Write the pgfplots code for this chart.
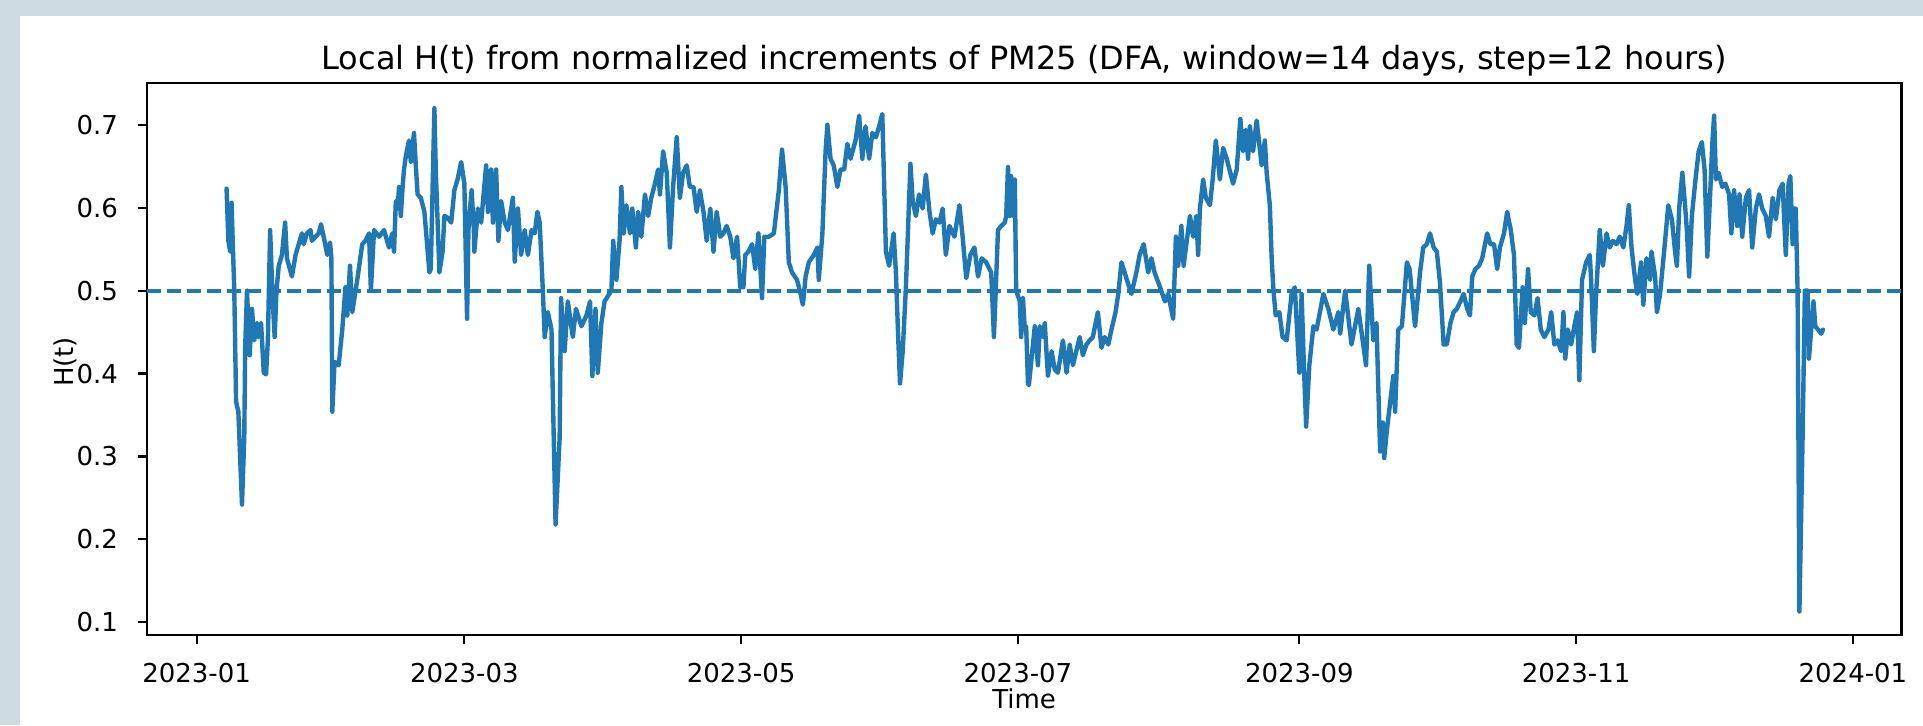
\documentclass[border=0pt]{standalone}
\usepackage{fontspec}
\setmainfont{DejaVu Sans}
\usepackage{pgfplots}
\pgfplotsset{compat=1.18}
\usepackage{pgfplotstable}
\definecolor{tabblue}{RGB}{31,119,180}
\definecolor{bggray}{RGB}{207,219,227}
\pgfplotstableread{
day H
6.6 0.623
7.0 0.560
7.4 0.547
7.7 0.606
8.0 0.552
8.3 0.500
8.7 0.366
9.2 0.354
10.0 0.242
10.5 0.323
10.7 0.431
11.1 0.500
11.7 0.422
12.2 0.478
12.7 0.440
13.3 0.461
13.6 0.444
14.2 0.461
14.8 0.401
15.3 0.399
15.7 0.440
16.2 0.573
16.7 0.496
17.2 0.444
17.6 0.500
18.1 0.530
18.8 0.543
19.5 0.582
19.9 0.539
21.0 0.517
21.8 0.543
22.5 0.556
23.2 0.569
23.6 0.556
24.3 0.569
25.1 0.573
25.4 0.560
26.2 0.565
26.9 0.569
27.4 0.580
28.0 0.565
28.8 0.543
29.4 0.558
29.7 0.539
29.9 0.354
30.4 0.414
31.3 0.410
32.1 0.453
32.8 0.504
33.2 0.470
33.8 0.530
34.3 0.474
35.4 0.513
36.5 0.556
37.2 0.560
38.0 0.569
38.4 0.500
39.1 0.573
40.2 0.565
41.3 0.573
42.4 0.552
43.1 0.569
43.5 0.547
43.9 0.608
44.3 0.599
44.6 0.625
45.0 0.590
45.4 0.625
45.7 0.646
46.1 0.662
46.8 0.681
47.2 0.655
47.9 0.690
48.3 0.651
48.7 0.616
49.4 0.612
50.2 0.595
51.3 0.522
51.6 0.526
52.4 0.720
52.7 0.646
53.5 0.522
54.2 0.547
54.6 0.590
55.3 0.588
56.1 0.582
56.8 0.621
57.5 0.634
58.3 0.655
59.0 0.629
59.6 0.466
59.9 0.573
60.1 0.590
60.6 0.621
61.1 0.573
61.2 0.547
62.0 0.599
62.7 0.582
63.8 0.651
64.2 0.595
64.9 0.646
65.3 0.582
66.0 0.646
66.5 0.560
67.1 0.608
67.9 0.582
68.6 0.573
69.7 0.612
70.1 0.535
70.8 0.599
71.5 0.543
72.3 0.573
73.0 0.543
73.8 0.573
74.5 0.569
75.1 0.595
75.6 0.582
76.3 0.500
76.7 0.444
77.4 0.474
78.2 0.453
79.1 0.218
80.0 0.323
80.3 0.491
81.1 0.427
81.8 0.487
82.9 0.444
83.6 0.478
84.8 0.457
85.9 0.470
86.7 0.487
87.2 0.397
87.9 0.478
88.4 0.401
89.2 0.461
89.9 0.487
90.7 0.494
91.4 0.500
91.8 0.560
92.5 0.513
93.2 0.560
93.6 0.625
94.1 0.569
94.7 0.603
95.5 0.569
96.0 0.599
96.8 0.552
97.3 0.595
98.0 0.565
98.8 0.616
99.5 0.590
100.2 0.612
101.0 0.629
101.7 0.646
102.1 0.616
102.8 0.668
103.6 0.642
104.3 0.552
105.0 0.625
105.8 0.685
106.5 0.612
107.2 0.642
108.0 0.651
108.7 0.625
109.5 0.625
110.2 0.595
110.9 0.621
111.7 0.595
112.4 0.560
113.2 0.599
113.9 0.547
114.6 0.595
115.4 0.565
116.1 0.569
116.8 0.578
117.6 0.565
118.3 0.539
119.1 0.565
119.8 0.504
120.5 0.504
120.9 0.543
121.6 0.547
122.4 0.556
123.1 0.526
123.8 0.569
124.6 0.491
125.1 0.565
126.1 0.565
127.2 0.569
128.3 0.621
129.0 0.670
129.8 0.625
130.5 0.534
131.2 0.522
132.3 0.513
133.1 0.496
133.6 0.483
134.2 0.517
134.9 0.534
136.0 0.543
136.8 0.552
137.1 0.513
137.9 0.569
138.2 0.612
138.6 0.668
139.0 0.700
139.7 0.659
140.4 0.651
141.2 0.625
141.9 0.646
142.7 0.646
143.4 0.677
144.1 0.659
145.2 0.681
146.0 0.711
146.7 0.659
147.4 0.698
148.2 0.659
148.9 0.690
149.7 0.685
150.4 0.698
151.1 0.713
151.9 0.547
152.6 0.530
153.6 0.569
154.1 0.522
154.6 0.444
155.0 0.388
155.6 0.427
156.3 0.504
157.3 0.653
157.8 0.608
158.5 0.590
159.2 0.616
160.0 0.599
160.7 0.640
161.5 0.595
162.2 0.569
162.9 0.586
163.7 0.582
164.4 0.599
165.1 0.543
165.9 0.578
167.0 0.565
168.1 0.603
168.8 0.565
169.6 0.515
170.5 0.543
171.4 0.552
172.2 0.517
173.0 0.539
174.0 0.534
175.1 0.522
175.7 0.444
176.6 0.573
177.3 0.578
178.1 0.582
178.4 0.590
178.8 0.649
179.2 0.590
179.5 0.638
180.0 0.590
180.3 0.634
180.6 0.500
181.4 0.487
181.7 0.444
182.1 0.491
182.5 0.453
182.8 0.457
183.2 0.388
183.4 0.386
184.7 0.457
185.4 0.410
185.8 0.457
186.5 0.444
186.9 0.461
187.6 0.397
188.4 0.427
189.1 0.405
189.8 0.401
190.9 0.440
191.7 0.401
192.4 0.435
193.1 0.410
194.6 0.444
195.3 0.422
196.1 0.435
196.8 0.440
197.5 0.444
198.6 0.474
199.4 0.431
200.1 0.444
200.9 0.435
201.6 0.453
202.5 0.474
203.1 0.496
203.8 0.534
204.5 0.522
205.0 0.513
206.0 0.496
207.1 0.522
207.8 0.543
208.7 0.556
209.7 0.522
210.4 0.539
211.1 0.522
212.3 0.504
213.4 0.487
214.1 0.496
215.2 0.466
215.8 0.565
216.3 0.530
217.0 0.578
217.5 0.530
218.9 0.590
219.6 0.565
220.3 0.590
220.7 0.543
221.1 0.599
221.8 0.634
222.4 0.612
223.3 0.603
223.9 0.634
224.6 0.681
225.5 0.634
226.2 0.672
227.0 0.659
228.4 0.629
229.2 0.646
230.0 0.707
230.6 0.668
231.2 0.694
231.7 0.659
232.1 0.698
232.8 0.668
233.6 0.705
234.7 0.651
235.4 0.681
235.8 0.642
236.5 0.603
236.9 0.539
237.3 0.500
237.8 0.470
238.6 0.474
239.3 0.444
240.2 0.440
241.3 0.496
242.0 0.504
243.0 0.401
243.5 0.496
244.0 0.410
244.5 0.336
245.2 0.410
246.1 0.457
246.8 0.453
248.3 0.496
249.4 0.478
250.5 0.453
251.6 0.474
252.0 0.448
253.1 0.500
254.5 0.435
256.0 0.478
257.7 0.410
258.4 0.530
259.3 0.440
260.0 0.461
260.8 0.306
261.4 0.341
261.7 0.298
262.3 0.332
263.7 0.397
264.1 0.354
264.8 0.453
265.6 0.457
266.7 0.534
267.3 0.526
268.5 0.457
269.6 0.522
270.3 0.552
271.1 0.556
271.8 0.569
272.6 0.552
273.3 0.547
274.0 0.509
274.8 0.435
275.5 0.435
276.3 0.461
277.0 0.474
277.7 0.478
278.5 0.487
279.2 0.496
280.0 0.478
280.6 0.470
281.1 0.517
281.8 0.526
282.6 0.530
283.3 0.539
284.4 0.569
285.1 0.556
285.9 0.556
286.6 0.526
287.2 0.552
288.1 0.569
288.8 0.595
289.6 0.573
290.3 0.543
290.9 0.435
291.4 0.431
292.2 0.504
292.7 0.461
293.4 0.526
294.0 0.474
294.8 0.470
295.5 0.491
296.2 0.453
297.0 0.444
297.9 0.453
298.5 0.474
299.2 0.435
299.9 0.440
300.7 0.427
301.2 0.474
301.6 0.418
302.2 0.453
302.9 0.435
303.6 0.457
304.2 0.474
304.7 0.392
305.3 0.513
306.2 0.534
307.0 0.543
307.3 0.513
307.9 0.427
308.4 0.496
309.2 0.573
309.9 0.530
310.7 0.569
311.4 0.552
312.1 0.560
312.9 0.556
313.6 0.565
314.4 0.552
315.1 0.578
315.6 0.603
316.2 0.552
317.0 0.513
317.5 0.496
318.3 0.534
318.8 0.483
319.5 0.539
320.3 0.513
320.6 0.547
321.4 0.517
321.8 0.474
322.5 0.496
323.6 0.560
324.3 0.603
325.1 0.586
325.8 0.547
326.2 0.530
326.7 0.599
327.4 0.642
328.0 0.603
328.4 0.573
328.9 0.517
329.5 0.590
330.3 0.634
331.0 0.668
331.7 0.679
332.3 0.646
332.9 0.541
333.6 0.625
334.0 0.677
334.4 0.711
334.8 0.634
335.4 0.642
336.2 0.625
336.9 0.629
337.7 0.616
338.2 0.569
338.8 0.621
339.5 0.578
340.0 0.616
340.6 0.565
341.4 0.612
342.1 0.621
342.8 0.552
343.6 0.599
344.3 0.616
345.0 0.599
345.8 0.590
346.5 0.565
347.3 0.612
348.0 0.586
348.8 0.621
349.5 0.629
350.2 0.543
350.8 0.629
351.2 0.638
351.7 0.556
352.1 0.599
352.4 0.599
352.8 0.500
353.2 0.113
353.9 0.323
354.4 0.500
355.0 0.500
355.3 0.418
355.8 0.453
356.3 0.487
356.7 0.457
357.3 0.453
358.0 0.448
358.4 0.453
}\hdata
\begin{document}
\begin{tikzpicture}
\fill[bggray] (0,0) rectangle (961.5pt,362.5pt);
\fill[white] (10pt,0) rectangle (961.5pt,354.5pt);
\begin{axis}[
  at={(73.35pt,45pt)}, anchor=south west,
  scale only axis, width=877.4pt, height=275.85pt,
  xmin=-11.0, xmax=375.7, ymin=0.0847, ymax=0.750,
  xtick={0,59,120,181,243,304,365},
  xticklabels={2023-01,2023-03,2023-05,2023-07,2023-09,2023-11,2024-01},
  ytick={0.1,0.2,0.3,0.4,0.5,0.6,0.7},
  yticklabels={0.1,0.2,0.3,0.4,0.5,0.6,0.7},
  tick align=outside, tick pos=left, major tick length=4.45pt,
  axis line style={line width=1.1pt, black},
  every tick/.style={line width=1.1pt, black},
  /pgf/number format/assume math mode=true,
  ticklabel style={font=\fontsize{13}{15}\selectfont, text=black},
  xticklabel style={anchor=base, inner sep=0pt, yshift=-19.2pt},
  yticklabel style={anchor=east, inner sep=0pt, xshift=-9.7pt},
  title={Local H(t) from normalized increments of PM25 (DFA, window=14 days, step=12 hours)},
  title style={at={(axis description cs:0.5,1.0254)}, anchor=base, yshift=-6pt, inner sep=0pt, font=\fontsize{16}{19}\selectfont, text=black},
  xlabel={Time},
  xlabel style={at={(axis description cs:0.5,-0.1330)}, anchor=base, inner sep=0pt, font=\fontsize{13}{15}\selectfont, text=black},
  clip mode=individual,
]
\addplot[tabblue, line width=2.2pt, line join=round, line cap=round] table[x=day, y=H]{\hdata};
\addplot[tabblue, line width=2pt, dash pattern=on 7pt off 3pt] coordinates {(-11.0,0.5) (375.7,0.5)};
\node[rotate=90, anchor=base, inner sep=0pt, font=\fontsize{13}{15}\selectfont, text=black] at (axis description cs:-0.0416,0.495) {H(t)};
\end{axis}
\end{tikzpicture}
\end{document}
